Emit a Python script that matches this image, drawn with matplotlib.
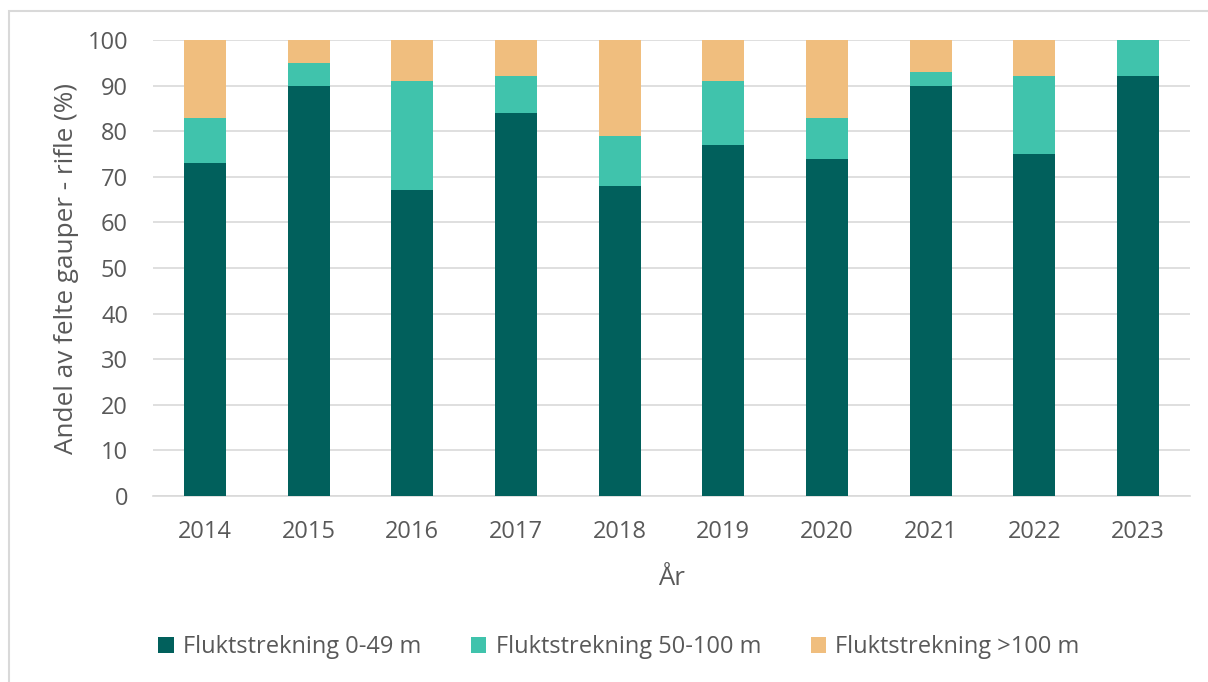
import matplotlib
matplotlib.use("Agg")
import matplotlib.pyplot as plt
from matplotlib.patches import Rectangle, Patch

plt.rcParams['font.family'] = ['Open Sans', 'DejaVu Sans']

years = ["2014", "2015", "2016", "2017", "2018", "2019", "2020", "2021", "2022", "2023"]
short = [73, 90, 67, 84, 68, 77, 74, 90, 75, 92]
mid = [10, 5, 24, 8, 11, 14, 9, 3, 17, 8]
long_ = [17, 5, 9, 8, 21, 9, 17, 7, 8, 0]
labels = ["Fluktstrekning 0-49 m", "Fluktstrekning 50-100 m", "Fluktstrekning >100 m"]
colors = ["#01605C", "#40C3AC", "#F0BE7E"]

W, H = 1208, 682
fig = plt.figure(figsize=(W / 100, H / 100), dpi=100)
ax = fig.add_axes([153 / W, 1 - 496 / H, (1190 - 153) / W, (496 - 40) / H])

txt = "#595959"
x = list(range(len(years)))
bw = 0.405
bottom2 = [a + b for a, b in zip(short, mid)]
ax.bar(x, short, bw, color=colors[0], zorder=3)
ax.bar(x, mid, bw, bottom=short, color=colors[1], zorder=3)
ax.bar(x, long_, bw, bottom=bottom2, color=colors[2], zorder=3)

ax.set_xlim(-0.5, len(years) - 0.5)
ax.set_ylim(0, 100)
ax.set_yticks(range(0, 101, 10))
ax.set_xticks(x)
ax.set_xticklabels(years)
ax.yaxis.grid(True, color="#D9D9D9", linewidth=1.2, zorder=0)
ax.set_axisbelow(True)
for s in ["top", "right", "left"]:
    ax.spines[s].set_visible(False)
ax.spines["bottom"].set_color("#D9D9D9")
ax.spines["bottom"].set_linewidth(1.2)
ax.tick_params(axis="both", length=0, labelsize=17, colors=txt)
ax.tick_params(axis="x", pad=17)
ax.tick_params(axis="y", pad=18)
ax.set_xlabel("År", fontsize=18.5, color=txt, labelpad=16)
ax.set_ylabel("Andel av felte gauper - rifle (%)", fontsize=18.8, color=txt, labelpad=6)

handles = [Patch(facecolor=c, edgecolor="none") for c in colors]
fig.legend(handles, labels, loc="center", bbox_to_anchor=(619 / W, 1 - 647 / H), ncol=3,
           frameon=False, fontsize=17, labelcolor=txt, handlelength=0.65, handleheight=0.65,
           handletextpad=0.4, columnspacing=2.1)

fig.patches.append(Rectangle((9 / W, -0.1), 1.2, 1 - 11 / H + 0.1, transform=fig.transFigure,
                             fill=False, edgecolor="#D9D9D9", linewidth=1.5, zorder=0))

fig.savefig("out.png", dpi=100)
